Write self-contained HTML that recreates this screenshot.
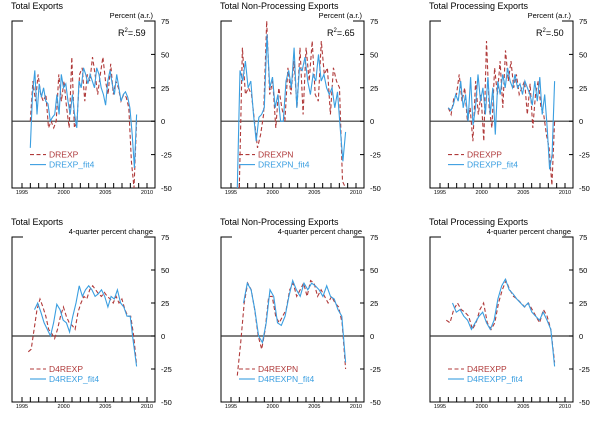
<!DOCTYPE html>
<html><head><meta charset="utf-8"><style>body{margin:0;background:#fff}svg{display:block;font-family:"Liberation Sans",sans-serif}</style></head>
<body><svg id="s" width="600" height="422" viewBox="0 0 600 422"></svg>
<script>
const S=document.getElementById('s');let h='';
const panels=[
{x:12,top:21,bot:188,title:'Total Exports',unit:'Percent (a.r.)',r2:'.59',n1:'DREXP',n2:'DREXP_fit4',
r:[1996,2008.75,[0,30,15,35,20,15,20,-5,0,-5,0,35,15,30,10,-5,48,-5,0,35,40,15,35,30,48,35,20,35,48,30,20,43,20,30,25,15,20,18,10,-30,-50,0]],
b:[1996,2008.75,[-20,20,38,5,28,18,25,15,13,0,3,5,20,5,35,25,28,15,5,20,5,-5,30,25,40,35,28,35,30,25,40,35,25,20,12,30,38,28,20,35,25,15,20,22,18,10,-10,-35,5]]},
{x:221,top:21,bot:188,title:'Total Non-Processing Exports',unit:'Percent (a.r.)',r2:'.65',n1:'DREXPN',n2:'DREXPN_fit4',
r:[1996,2008.75,[-50,55,20,25,20,0,-20,-10,5,75,20,30,-5,25,10,0,40,20,45,10,55,5,55,30,60,20,15,60,35,40,5,40,30,25,-45,-50]],
b:[1995.75,2008.75,[-50,38,30,45,25,30,5,-15,3,5,10,65,25,33,10,20,0,0,30,38,25,55,10,40,38,48,30,20,35,30,50,30,35,25,20,25,10,22,-5,-30,-8]]},
{x:430,top:21,bot:188,title:'Total Processing Exports',unit:'Percent (a.r.)',r2:'.50',n1:'DREXPP',n2:'DREXPP_fit4',
r:[1996,2008.75,[10,5,17,20,35,15,25,0,10,-15,30,5,20,-15,60,10,-5,40,20,45,10,53,30,45,25,35,20,25,30,5,28,-5,20,30,10,5,-10,-20,-48,0]],
b:[1996,2008.75,[10,8,12,20,15,30,10,20,0,33,-3,10,35,15,25,5,33,5,25,-10,30,20,35,25,40,30,25,35,25,28,20,30,25,20,12,30,15,33,5,20,-5,-36,-25,30]]},
{x:12,top:237,bot:402,title:'Total Exports',unit:'4-quarter percent change',n1:'D4REXP',n2:'D4REXP_fit4',
r:[1995.75,2008.75,[-12,-10,5,20,28,22,15,5,2,-2,5,15,22,15,10,8,5,18,25,30,28,35,38,35,32,30,33,30,28,25,30,25,28,20,15,15,0,-22]],
b:[1996.5,2008.75,[20,25,18,10,5,0,10,24,20,12,10,3,15,25,38,30,35,38,35,30,32,35,30,22,30,28,35,25,22,15,15,-5,-23]]},
{x:221,top:237,bot:402,title:'Total Non-Processing Exports',unit:'4-quarter percent change',n1:'D4REXPN',n2:'D4REXPN_fit4',
r:[1995.75,2008.75,[-30,-5,25,40,35,20,0,-10,5,30,30,15,10,15,20,35,40,30,35,40,30,42,40,30,35,30,25,30,25,22,10,-25]],
b:[1996.5,2008.75,[25,40,35,20,0,-5,10,35,30,10,8,15,30,42,35,30,40,35,40,38,35,30,38,30,28,20,15,-20]]},
{x:430,top:237,bot:402,title:'Total Processing Exports',unit:'4-quarter percent change',n1:'D4REXPP',n2:'D4REXPP_fit4',
r:[1995.75,2008.75,[12,10,20,25,20,18,15,5,10,20,25,10,5,10,25,35,42,35,30,28,25,22,25,20,15,10,20,15,5,-20]],
b:[1996.5,2008.75,[25,18,20,15,12,5,10,15,18,10,5,12,28,38,43,35,32,28,25,22,25,18,15,12,18,12,5,-23]]}];
panels.forEach(p=>{
 const L=p.x,R=p.x+143,T=p.top,B=p.bot,ky=(B-T)/125;
 const Y=v=>T+(75-v)*ky, X=yr=>L+10+(yr-1995)*125/15;
 h+=`<text x="${L-1}" y="${T-12}" font-size="9">${p.title}</text>`;
 h+=`<text x="${R-2}" y="${T-3}" font-size="7.5" text-anchor="end">${p.unit}</text>`;
 if(p.r2)h+=`<text x="${R-37}" y="${T+15}" font-size="9">R<tspan font-size="6" dy="-4">2</tspan><tspan dy="4">=${p.r2}</tspan></text>`;
 h+=`<path d="M${L+11},${T}H${L}V${B}H${R}V${T}H${R-11}" fill="none" stroke="#000" stroke-width="1"/>`;
 h+=`<line x1="${L}" x2="${R}" y1="${Y(0)}" y2="${Y(0)}" stroke="#333" stroke-width="1.2"/>`;
 [75,50,25,0,-25,-50].forEach(v=>{h+=`<line x1="${R-4}" x2="${R}" y1="${Y(v)}" y2="${Y(v)}" stroke="#000"/><text x="${R+6}" y="${Y(v)+3}" font-size="7.5">${v}</text>`});
 for(let yr=1995;yr<=2010;yr++)h+=`<line x1="${X(yr)}" x2="${X(yr)}" y1="${B}" y2="${B-5}" stroke="#000"/>`;
 [1995,2000,2005,2010].forEach(yr=>h+=`<text x="${X(yr)}" y="${B+6}" font-size="5.5" text-anchor="middle">${yr}</text>`);
 const line=(d,st,dash)=>{const [a,b,arr]=d;const n=arr.length;const pts=arr.map((v,i)=>X(a+(b-a)*i/(n-1)).toFixed(1)+','+Y(v).toFixed(1)).join(' ');
  h+=`<polyline points="${pts}" fill="none" stroke="${st}" stroke-width="1.1" ${dash?'stroke-dasharray="4,2.5"':''}/>`};
 line(p.r,'#b03a3a',1);line(p.b,'#3a9ee0',0);
 const ly=Y(-25);
 h+=`<line x1="${L+18}" x2="${L+34}" y1="${ly}" y2="${ly}" stroke="#b03a3a" stroke-width="1.1" stroke-dasharray="4,2.5"/><text x="${L+37}" y="${ly+3}" font-size="8.5" fill="#b03a3a">${p.n1}</text>`;
 h+=`<line x1="${L+18}" x2="${L+34}" y1="${ly+10}" y2="${ly+10}" stroke="#3a9ee0" stroke-width="1.1"/><text x="${L+37}" y="${ly+13}" font-size="8.5" fill="#3a9ee0">${p.n2}</text>`;
});
S.innerHTML=h;
</script></body></html>
